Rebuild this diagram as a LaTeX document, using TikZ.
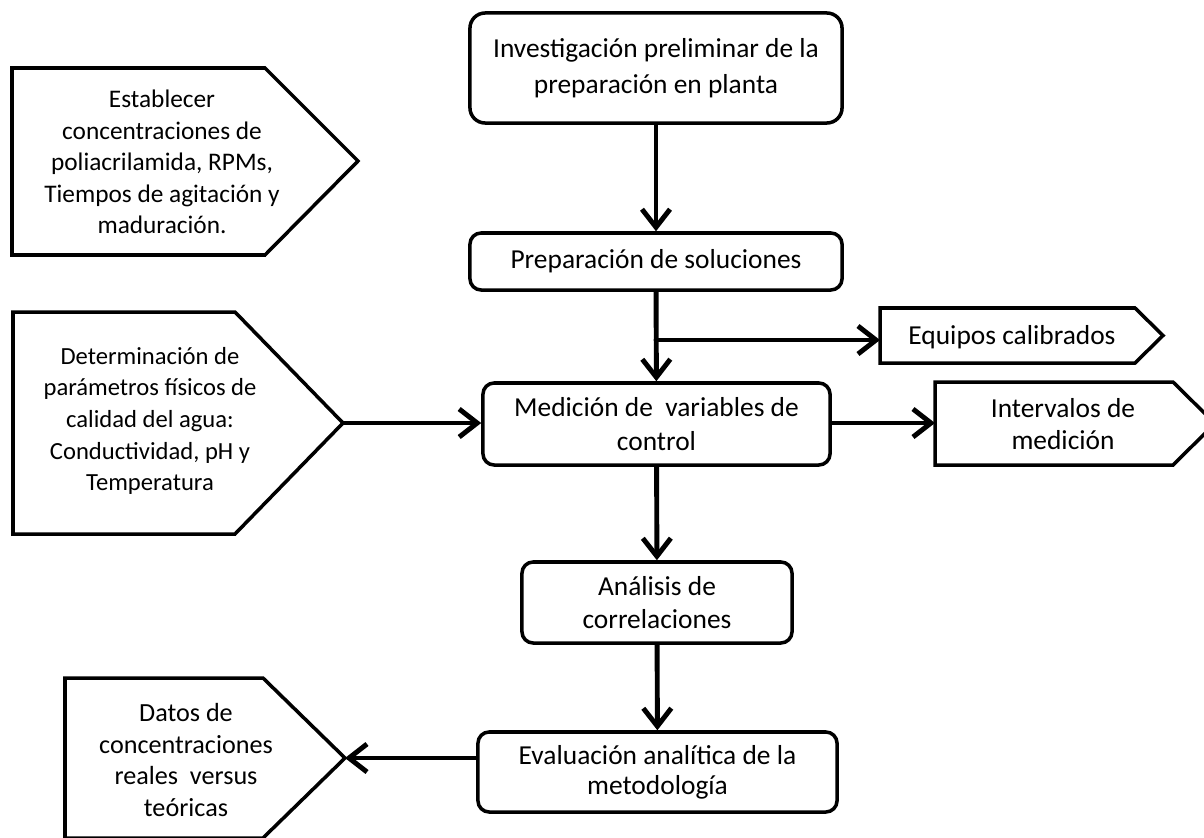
\documentclass[tikz,border=0pt]{standalone}
\usepackage{fontspec}
\setmainfont{Carlito}
\usetikzlibrary{arrows.meta, positioning, calc}

\tikzset{
  caja/.style={draw, line width=2.5pt, rounded corners=0.28cm, align=center,
    inner sep=2pt, font=\fontsize{19.5}{24}\selectfont},
  texto/.style={align=center, inner sep=1pt, font=\fontsize{19.5}{22.7}\selectfont},
  borde/.style={line width=2.5pt, line join=miter},
  flecha/.style={line width=3.5pt, line cap=round,
    -{Straight Barb[length=4.5mm, width=7mm]}},
}

\begin{document}
\begin{tikzpicture}[x=0.025cm, y=-0.025cm]
  \useasboundingbox (0,0) rectangle (1204,837);

  % main column
  \node[caja, minimum width=9.3cm, minimum height=2.75cm, rounded corners=0.38cm,
    font=\fontsize{19.5}{26}\selectfont] (inv) at (656,68)
    {Investigación preliminar de la\\preparación en planta};
  \node[caja, minimum width=9.3cm, minimum height=1.425cm] (prep) at (656,261.5)
    {Preparación de soluciones};
  \node[caja, minimum width=8.675cm, minimum height=2.05cm] (med) at (656.5,424)
    {Medición de~ variables de\\control};
  \node[caja, minimum width=6.75cm, minimum height=2.025cm] (ana) at (657,602.5)
    {Análisis de\\correlaciones};
  \node[caja, minimum width=8.975cm, minimum height=2cm,
    font=\fontsize{19.5}{21.5}\selectfont] (eva) at (657.5,772)
    {Evaluación analítica de la\\metodología};

  % side pentagons
  \draw[borde] (12,68) -- (265,68) -- (358,161) coordinate (est punta)
    -- (265,255) -- (12,255) -- cycle;
  \node[texto, font=\fontsize{18}{22.5}\selectfont] (est) at (162,162)
    {Establecer\\concentraciones de\\poliacrilamida, RPMs,\\Tiempos de agitación y\\maduración.};

  \draw[borde] (13,312) -- (235,312) -- (343,423) coordinate (det punta)
    -- (235,534) -- (13,534) -- cycle;
  \node[texto, font=\fontsize{17.5}{22.5}\selectfont] (det) at (150,421)
    {Determinación de\\parámetros físicos de\\calidad del agua:\\Conductividad, pH y\\Temperatura};

  \draw[borde] (65,678) -- (263,678) -- (345,758) coordinate (dat punta)
    -- (263,838) -- (65,838) -- cycle;
  \node[texto, font=\fontsize{18.6}{22.7}\selectfont] (dat) at (186,760)
    {Datos de\\concentraciones\\reales~ versus\\teóricas};

  \draw[borde] (880,308) coordinate (equ ent) -- (1135,308) -- (1163,335.5)
    -- (1135,363) -- (880,363) -- cycle;
  \node[texto] (equ) at (1012,337) {Equipos calibrados};

  \draw[borde] (935,382) -- (1173,382) -- (1215,423.5) -- (1173,465)
    -- (935,465) coordinate (int ent) -- cycle;
  \node[texto] (int) at (1063,424)
    {Intervalos de\\medición};

  % connectors
  \coordinate (rama) at (656,340);
  \draw[flecha] (inv) -- (prep);
  \draw[flecha] (prep) -- (med);
  \draw[flecha] (rama) -- (equ ent |- rama);
  \draw[flecha] (det punta) -- (med.west |- det punta);
  \draw[flecha] (med.east |- det punta) -- (int ent |- det punta);
  \draw[flecha] (med) -- (ana);
  \draw[flecha] (ana) -- (eva);
  \draw[flecha] (eva.west |- dat punta) -- (dat punta);
\end{tikzpicture}
\end{document}
